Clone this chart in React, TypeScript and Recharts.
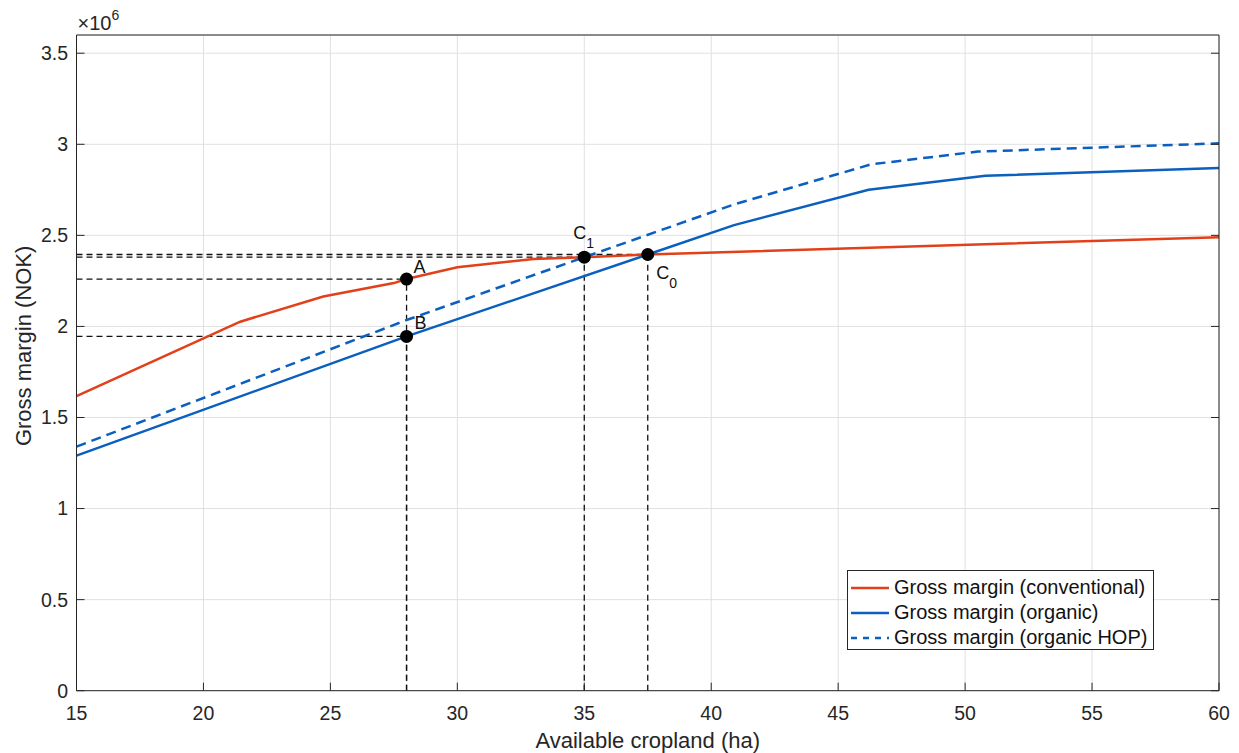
import React from "react";
import {
  ComposedChart,
  Line,
  Scatter,
  XAxis,
  YAxis,
  CartesianGrid,
  ReferenceLine,
  Legend,
} from "recharts";

// gross margin in millions of NOK
const convX = [15, 21.45, 24.72, 27.5, 28, 30, 33, 35, 37.5, 60];
const convY = [1.617, 2.026, 2.164, 2.238, 2.26, 2.325, 2.37, 2.38, 2.395, 2.49];

const orgX = [15, 28, 37.5, 40.9, 46.2, 50.8, 60];
const orgY = [1.291, 1.945, 2.395, 2.556, 2.75, 2.827, 2.87];

const hopX = [15, 28, 35, 40.9, 46.3, 50.5, 60];
const hopY = [1.34, 2.035, 2.38, 2.67, 2.89, 2.96, 3.005];

const pointNames = ["A", "B", "C1", "C0"];
const pointX = [28, 28, 35, 37.5];
const pointY = [2.26, 1.945, 2.38, 2.395];

const xTicks = [15, 20, 25, 30, 35, 40, 45, 50, 55, 60];
const yTicks = [0, 0.5, 1, 1.5, 2, 2.5, 3, 3.5].map((v) => v * 1e6);

const RED = "#E2401A";
const BLUE = "#0A5FBF";
const AXIS = "#262626";
const GRID = "#e0e0e0";
const FONT = "'Liberation Sans', Arial, Helvetica, sans-serif";

const toRows = (xs: number[], ys: number[]) => xs.map((x, i) => ({ x, y: ys[i] * 1e6 }));

const convData = toRows(convX, convY);
const orgData = toRows(orgX, orgY);
const hopData = toRows(hopX, hopY);
const pointData = pointNames.map((name, i) => ({ name, x: pointX[i], y: pointY[i] * 1e6 }));

const legendItems = [
  { name: "Gross margin (conventional)", color: RED, dash: undefined },
  { name: "Gross margin (organic)", color: BLUE, dash: undefined },
  { name: "Gross margin (organic HOP)", color: BLUE, dash: "6 6" },
];

// label placement relative to each dot
const labelOffset: Record<string, [number, number]> = {
  A: [7, -6],
  B: [8, -7],
  C1: [-11, -18],
  C0: [8.5, 25],
};

const PointShape = (props: any) => {
  const { cx, cy, payload } = props;
  const name: string = payload.name;
  const [dx, dy] = labelOffset[name];
  return (
    <g>
      <circle cx={cx} cy={cy} r={6.5} fill="#000" />
      <text x={cx + dx} y={cy + dy} fontSize={18} fontFamily={FONT} fill="#111">
        {name[0]}
        {name.length > 1 && (
          <tspan dy={9} fontSize={14}>
            {name.slice(1)}
          </tspan>
        )}
      </text>
    </g>
  );
};

const renderLegend = () => (
  <div
    style={{
      width: 307,
      height: 80,
      boxSizing: "border-box",
      border: `1px solid ${AXIS}`,
      background: "#fff",
      paddingTop: 4,
      paddingLeft: 2,
      fontFamily: FONT,
      fontSize: 20,
      color: "#111",
    }}
  >
    {legendItems.map((it) => (
      <div key={it.name} style={{ display: "flex", alignItems: "center", height: 25 }}>
        <svg width={40} height={10} style={{ display: "block" }}>
          <line x1={1} x2={39} y1={5} y2={5} stroke={it.color} strokeWidth={2.5} strokeDasharray={it.dash} />
        </svg>
        <span style={{ marginLeft: 4, whiteSpace: "nowrap" }}>{it.name}</span>
      </div>
    ))}
  </div>
);

const XTitle = (props: any) => {
  const vb = props.viewBox;
  return (
    <text x={vb.x + vb.width / 2} y={vb.y + 57.5} textAnchor="middle" fontSize={22} fontFamily={FONT} fill={AXIS}>
      Available cropland (ha)
    </text>
  );
};

const YTitle = (props: any) => {
  const vb = props.viewBox;
  const cy = vb.y + vb.height / 2 - 17;
  return (
    <text x={31} y={cy} transform={`rotate(-90 31 ${cy})`} textAnchor="middle" fontSize={22} fontFamily={FONT} fill={AXIS}>
      Gross margin (NOK)
    </text>
  );
};

const Exponent = (props: any) => {
  const vb = props.viewBox;
  return (
    <text x={vb.x + 1} y={vb.y + 30} fontSize={20} fontFamily={FONT} fill={AXIS}>
      ×10
      <tspan dy={-10} fontSize={14}>
        6
      </tspan>
    </text>
  );
};

const tickStyle = { fill: AXIS, fontSize: 19.5, fontFamily: FONT };

export default function App() {
  return (
    <div style={{ position: "absolute", left: 0, top: 0 }}>
      <ComposedChart width={1239} height={753} margin={{ top: 0, right: 0, bottom: 0, left: 0 }}>
        <CartesianGrid stroke={GRID} strokeWidth={1} />
        <XAxis
          type="number"
          dataKey="x"
          domain={[15, 60]}
          ticks={xTicks}
          allowDataOverflow
          height={62.3}
          tick={tickStyle}
          tickSize={-8}
          tickMargin={23}
          stroke={AXIS}
          label={{ content: XTitle }}
        />
        <XAxis
          xAxisId="top"
          orientation="top"
          type="number"
          domain={[15, 60]}
          ticks={xTicks}
          allowDataOverflow
          height={35}
          tickFormatter={() => ""}
          tickSize={-8}
          stroke={AXIS}
          label={{ content: Exponent }}
        />
        <YAxis
          type="number"
          domain={[0, 3.6e6]}
          ticks={yTicks}
          allowDataOverflow
          width={76.5}
          tick={tickStyle}
          tickSize={-8}
          tickMargin={16.5}
          tickFormatter={(v: number) => String(v / 1e6)}
          stroke={AXIS}
          label={{ content: YTitle }}
        />
        <YAxis
          yAxisId="right"
          orientation="right"
          type="number"
          domain={[0, 3.6e6]}
          ticks={yTicks}
          allowDataOverflow
          width={20}
          tickFormatter={() => ""}
          tickSize={-8}
          stroke={AXIS}
        />

        {pointData.map((p) => (
          <ReferenceLine
            key={`h-${p.name}`}
            segment={[
              { x: 15, y: p.y },
              { x: p.x, y: p.y },
            ]}
            stroke="#111"
            strokeWidth={1.3}
            strokeDasharray="6 4"
          />
        ))}
        {pointData.map((p) => (
          <ReferenceLine
            key={`v-${p.name}`}
            segment={[
              { x: p.x, y: 0 },
              { x: p.x, y: p.y },
            ]}
            stroke="#111"
            strokeWidth={1.3}
            strokeDasharray="6 4"
          />
        ))}

        <Line data={convData} dataKey="y" type="linear" stroke={RED} strokeWidth={2.5} dot={false} isAnimationActive={false} />
        <Line data={orgData} dataKey="y" type="linear" stroke={BLUE} strokeWidth={2.5} dot={false} isAnimationActive={false} />
        <Line
          data={hopData}
          dataKey="y"
          type="linear"
          stroke={BLUE}
          strokeWidth={2.5}
          strokeDasharray="10 6"
          dot={false}
          isAnimationActive={false}
        />
        <Scatter data={pointData} dataKey="y" shape={PointShape} legendType="none" isAnimationActive={false} />

        <Legend
          content={renderLegend}
          layout="horizontal"
          verticalAlign="middle"
          align="center"
          wrapperStyle={{ left: 847, top: 570, width: "auto", bottom: "auto" }}
        />
      </ComposedChart>
    </div>
  );
}
